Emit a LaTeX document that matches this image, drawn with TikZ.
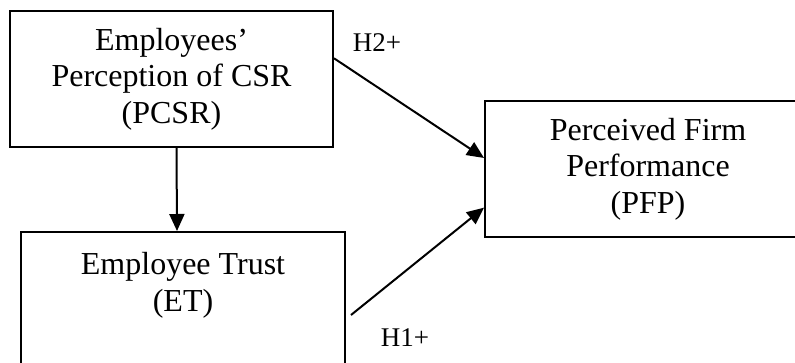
\documentclass[tikz,border=0pt]{standalone}
\usepackage{fontspec}
\setmainfont{Liberation Serif}
\usepackage{tikz}
\usetikzlibrary{arrows.meta, positioning, calc}
\tikzstyle{construct} = [rectangle, draw=black, line width=2pt, text centered, align=center, inner sep=0pt, minimum height=136pt, font=\fontsize{32}{36.5}\selectfont]
\tikzstyle{hyp} = [inner sep=0pt, font=\fontsize{27}{30}\selectfont]
\tikzstyle{arrow} = [line width=2pt, -{Triangle[length=17pt,width=15pt]}]

\begin{document}
\begin{tikzpicture}[x=1pt, y=-1pt]
\useasboundingbox (0,0) rectangle (795,362);
\node (pcsr) [construct, minimum width=323pt] at (171.5,79) {Employees’\\Perception of CSR\\(PCSR)};
\node (et) [construct, minimum width=324pt, below=83pt of pcsr, xshift=11.5pt] {Employee Trust\\(ET)\\\mbox{}};
\node (pfp) [construct, minimum width=326pt, right=150pt of pcsr, yshift=-90pt] {Perceived Firm\\Performance\\(PFP)};
\node (hyptwo) [hyp] at (377,43) {H2+};
\node (hypone) [hyp] at (405,338) {H1+};

\draw [arrow] ([xshift=5pt]pcsr.south) -- ([xshift=-6pt]et.north);
\draw [arrow] ($(pcsr.north east)!0.35!(pcsr.south east)$) -- ($(pfp.north west)!0.42!(pfp.south west)$);
\draw [arrow] ([shift={(5pt,-15pt)}]et.east) -- ($(pfp.north west)!0.78!(pfp.south west)$);
\end{tikzpicture}
\end{document}
